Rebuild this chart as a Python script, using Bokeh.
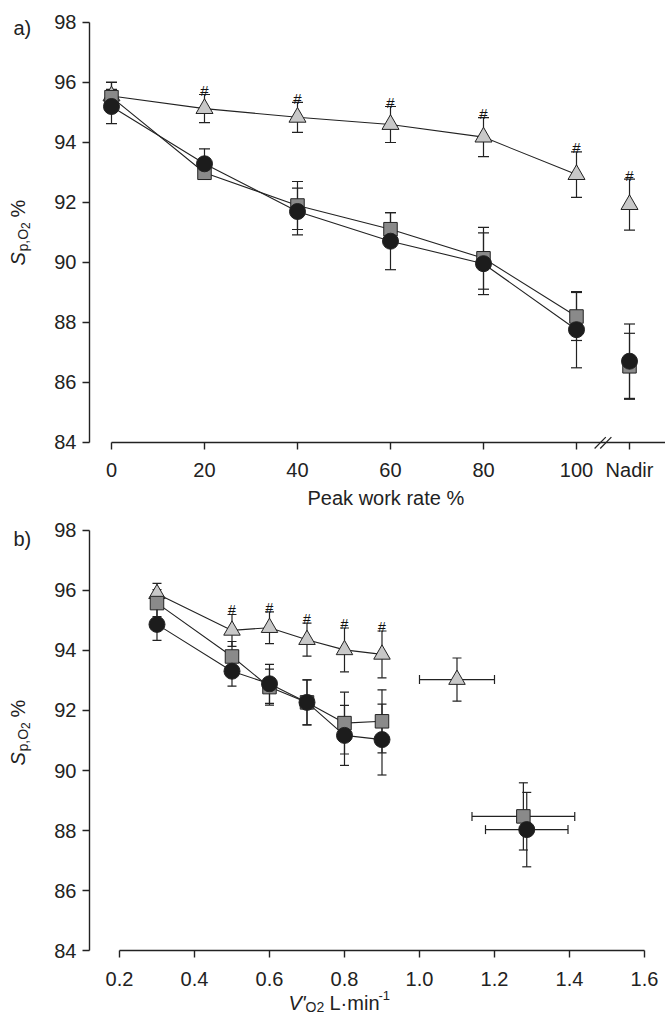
import math
from bokeh.plotting import figure
from bokeh.models import (ColumnDataSource, Whisker, TeeHead, Label, FixedTicker,
                          NumeralTickFormatter, Arrow)
from bokeh.layouts import column
from bokeh.embed import file_html
from bokeh.resources import INLINE
from bokeh.core.properties import value

# ---------------- data: panel a (x = % peak work rate) ----------------
pct = [0, 20, 40, 60, 80, 100]
tri_a = [95.55, 95.13, 94.84, 94.60, 94.18, 92.93]
tri_a_err = [0.45, 0.47, 0.50, 0.60, 0.65, 0.76]
sq_a = [95.51, 92.99, 91.90, 91.11, 90.14, 88.20]
sq_a_err = [0.50, 0.20, 0.80, 0.55, 1.03, 0.80]
circ_a = [95.20, 93.29, 91.70, 90.71, 89.96, 87.76]
circ_a_err = [0.57, 0.50, 0.78, 0.95, 1.03, 1.27]
# nadir values
tri_nadir, tri_nadir_err = 91.93, 0.85
sq_nadir, sq_nadir_err = 86.54, 1.10
circ_nadir, circ_nadir_err = 86.71, 1.24
a_ticks = [0, 20, 40, 60, 80, 100]
nadir_label = "Nadir"

# ---------------- data: panel b (x = VO2 L/min) ----------------
vo2 = [0.3, 0.5, 0.6, 0.7, 0.8, 0.9]
tri_b = [95.89, 94.67, 94.76, 94.36, 94.02, 93.87]
tri_b_err = [0.35, 0.53, 0.53, 0.55, 0.73, 0.78]
sq_b = [95.58, 93.80, 92.78, 92.27, 91.58, 91.64]
sq_b_err = [0.45, 0.50, 0.60, 0.75, 1.03, 1.05]
circ_b = [94.87, 93.31, 92.89, 92.27, 91.17, 91.03]
circ_b_err = [0.53, 0.50, 0.65, 0.75, 1.00, 1.18]
# peak points (x, xerr, y, yerr)
tri_peak = (1.100, 0.100, 93.03, 0.72)
sq_peak = (1.277, 0.137, 88.47, 1.12)
circ_peak = (1.286, 0.110, 88.03, 1.24)
b_ticks = [0.2, 0.4, 0.6, 0.8, 1.0, 1.2, 1.4, 1.6]
y_ticks = [84, 86, 88, 90, 92, 94, 96, 98]

# ---------------- style ----------------
INK = "#222222"
TRI_FILL = "#c8c8c8"
SQ_FILL = "#8a8a8a"
CIRC_FILL = "#1c1c1c"
FONT = "Liberation Sans"
NADIR_POS = 111.4
W = 665


def base_fig(height, xr, yr, yaxis_at, xstandoff):
    p = figure(width=W, height=height, x_range=xr, y_range=yr,
               output_backend="svg", toolbar_location=None,
               min_border_left=0, min_border_right=0,
               min_border_top=0, min_border_bottom=0)
    p.outline_line_color = None
    p.grid.visible = False
    p.background_fill_color = "white"
    p.border_fill_color = "white"
    for ax in (p.xaxis[0], p.yaxis[0]):
        ax.axis_line_color = INK
        ax.axis_line_width = 1.4
        ax.major_tick_line_color = INK
        ax.major_tick_line_width = 1.4
        ax.major_tick_out = 7
        ax.major_tick_in = 0
        ax.minor_tick_line_color = None
        ax.major_label_text_font = FONT
        ax.major_label_text_font_size = "20px"
        ax.major_label_text_color = INK
    p.yaxis[0].ticker = FixedTicker(ticks=y_ticks)
    p.yaxis[0].bounds = (84, 98)
    p.yaxis[0].fixed_location = yaxis_at
    p.yaxis[0].major_label_standoff = 6
    p.xaxis[0].fixed_location = 84
    p.xaxis[0].major_label_standoff = xstandoff
    return p


def add_whisker(p, src, base, lo, hi, dim, cap):
    p.add_layout(Whisker(source=src, base=base, lower=lo, upper=hi, dimension=dim,
                         line_color=INK, line_width=1.2,
                         upper_head=TeeHead(size=cap, line_color=INK, line_width=1.2),
                         lower_head=TeeHead(size=cap, line_color=INK, line_width=1.2)))


def make_src(x, y, err, xerr=None):
    d = dict(x=list(x), y=list(y),
             lo=[a - b for a, b in zip(y, err)], hi=[a + b for a, b in zip(y, err)])
    if xerr is not None:
        d["xlo"] = [a - b for a, b in zip(x, xerr)]
        d["xhi"] = [a + b for a, b in zip(x, xerr)]
    return ColumnDataSource(d)


def lab(p, text, x, y, size, style="normal", angle=0.0):
    # x, y: screen px from the canvas left / bottom
    p.add_layout(Label(x=x, y=y, x_units="screen", y_units="screen", text=text,
                       text_font=FONT, text_font_size=f"{size}px", text_font_style=style,
                       text_color=INK, angle=angle, text_align="left",
                       text_baseline="alphabetic"))


def ylabel(p, y0):
    a = math.pi / 2
    lab(p, "S", 17, y0, 20, "italic", a)
    lab(p, "p,O", 22, y0 + 14, 14, "normal", a)
    lab(p, "2", 25, y0 + 36.5, 12, "normal", a)
    lab(p, "%", 17, y0 + 48, 20, "normal", a)


# ======================= panel a =======================
HA = 508
pa = base_fig(HA, (-23.87, 119.14), (81.8, 98.733), -4.73, 10)
pa.xaxis[0].ticker = FixedTicker(ticks=a_ticks + [NADIR_POS])
pa.xaxis[0].formatter = NumeralTickFormatter(format="0")
pa.xaxis[0].major_label_overrides = {NADIR_POS: nadir_label}
pa.xaxis[0].bounds = (0, 119.14)

series_a = [
    (tri_a, tri_a_err, tri_nadir, tri_nadir_err, "triangle", 17, TRI_FILL),
    (sq_a, sq_a_err, sq_nadir, sq_nadir_err, "square", 13.5, SQ_FILL),
    (circ_a, circ_a_err, circ_nadir, circ_nadir_err, "circle", 16, CIRC_FILL),
]
srcs_a = []
for y, e, yn, en, mk, sz, fc in series_a:
    s = make_src(pct + [NADIR_POS], y + [yn], e + [en])
    line_src = make_src(pct, y, e)
    add_whisker(pa, s, "x", "lo", "hi", "height", 11)
    pa.line("x", "y", source=line_src, line_color=INK, line_width=1.1)
    srcs_a.append((s, mk, sz, fc))
for s, mk, sz, fc in srcs_a:
    pa.scatter("x", "y", source=s, marker=mk, size=sz, fill_color=fc,
               line_color=INK, line_width=1)

# significance marks above triangles (20..100 and nadir)
hx = pct[1:] + [NADIR_POS]
hy = [a + b for a, b in zip(tri_a[1:], tri_a_err[1:])] + [tri_nadir + tri_nadir_err]
pa.text(hx, hy, text=["#"] * len(hx), y_offset=-4, text_align="center",
        text_baseline="alphabetic", text_font=value(FONT), text_font_size="15px",
        text_color="#111111")

# axis break marks between 100 and nadir
mid = (pct[-1] + NADIR_POS) / 2
for dx in (-0.6, 0.6):
    pa.add_layout(Arrow(end=None, x_start=mid + dx - 1.2, y_start=83.8,
                        x_end=mid + dx + 1.2, y_end=84.18,
                        line_color=INK, line_width=1.2))

ylabel(pa, HA - 265)
lab(pa, "Peak work rate %", 307, HA - 497, 20)
lab(pa, "a)", 13, HA - 27, 20)

# ======================= panel b =======================
HB = 506
pb = base_fig(HB, (-0.1173, 1.656), (81.867, 98.733), 0.12, 14)
pb.xaxis[0].ticker = FixedTicker(ticks=b_ticks)
pb.xaxis[0].formatter = NumeralTickFormatter(format="0.0")
pb.xaxis[0].bounds = (0.2, 1.6)

series_b = [
    (tri_b, tri_b_err, tri_peak, "triangle", 16.5, TRI_FILL),
    (sq_b, sq_b_err, sq_peak, "square", 13.5, SQ_FILL),
    (circ_b, circ_b_err, circ_peak, "circle", 16, CIRC_FILL),
]
srcs_b = []
for y, e, pk, mk, sz, fc in series_b:
    s = make_src(vo2, y, e)
    ps = make_src([pk[0]], [pk[2]], [pk[3]], xerr=[pk[1]])
    add_whisker(pb, s, "x", "lo", "hi", "height", 9)
    add_whisker(pb, ps, "x", "lo", "hi", "height", 9)
    add_whisker(pb, ps, "y", "xlo", "xhi", "width", 9)
    pb.line("x", "y", source=s, line_color=INK, line_width=1.1)
    srcs_b.append((s, ps, mk, sz, fc))
for s, ps, mk, sz, fc in srcs_b:
    for src in (s, ps):
        pb.scatter("x", "y", source=src, marker=mk, size=sz, fill_color=fc,
                   line_color=INK, line_width=1)

hxb = vo2[1:]
hyb = [a + b for a, b in zip(tri_b[1:], tri_b_err[1:])]
pb.text(hxb, hyb, text=["#"] * len(hxb), y_offset=-4, text_align="center",
        text_baseline="alphabetic", text_font=value(FONT), text_font_size="14px",
        text_color="#111111")

ylabel(pb, HB - (765 - 508))
lab(pb, "V'", 288, 12, 20, "italic")
lab(pb, "O2", 305, 8, 14)
lab(pb, "L·min", 329, 12, 20)
lab(pb, "-1", 378, 19, 13)
lab(pb, "b)", 13, HB - 30, 20)

layout = column(pa, pb, spacing=0)
open("out.html", "w").write(file_html(layout, INLINE))
